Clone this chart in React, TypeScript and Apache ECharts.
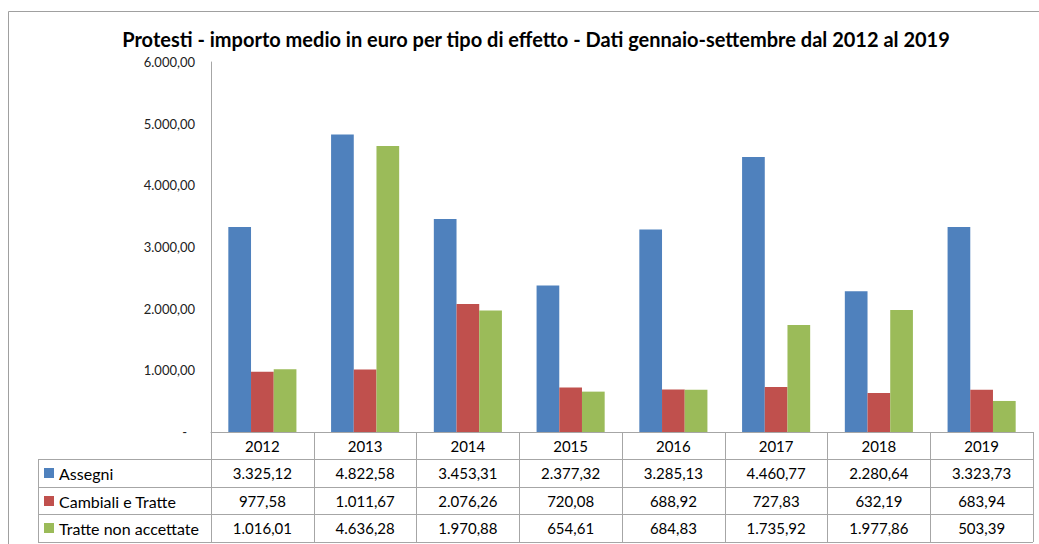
import React, { useEffect, useRef } from "react";
import * as echarts from "echarts";

const years = ["2012", "2013", "2014", "2015", "2016", "2017", "2018", "2019"];
const seriesNames = ["Assegni", "Cambiali e Tratte", "Tratte non accettate"];
const assegni = [3325.12, 4822.58, 3453.31, 2377.32, 3285.13, 4460.77, 2280.64, 3323.73];
const cambiali = [977.58, 1011.67, 2076.26, 720.08, 688.92, 727.83, 632.19, 683.94];
const tratte = [1016.01, 4636.28, 1970.88, 654.61, 684.83, 1735.92, 1977.86, 503.39];
const colors = ["#4F81BD", "#C0504D", "#9BBB59"];
const titleText =
  "Protesti - importo medio in euro per tipo di effetto - Dati gennaio-settembre dal 2012 al 2019";
const yMin = 0;
const yMax = 6000;
const yInterval = 1000;

const FONT = "Lato, 'Open Sans', sans-serif";

function fmtIt(v: number): string {
  const [i, d] = v.toFixed(2).split(".");
  const int = i.replace(/\B(?=(\d{3})+(?!\d))/g, ".");
  return int + "," + d;
}

const W = 1039;
const H = 544;
const gridLeft = 211;
const gridRight = 1033;
const gridTop = 62;
const gridBottom = 432;
const rowH = [459, 487, 514, 542];
const rowCenters = [473, 501, 528];
const tableLeft = 38;
const lineColor = "#A6A6A6";
const TABLE_FS = 15;

export default function App() {
  const ref = useRef<HTMLDivElement>(null);
  useEffect(() => {
    if (!ref.current) return;
    const chart = echarts.init(ref.current, undefined, { renderer: "svg" });
    const allData = [assegni, cambiali, tratte];

    const valueAxes = allData.map((arr, k) => ({
      type: "category" as const,
      data: arr.map(fmtIt),
      position: "bottom" as const,
      offset: rowCenters[k] - gridBottom,
      axisLine: { show: false },
      axisTick: { show: false },
      axisLabel: {
        interval: 0,
        margin: 0,
        verticalAlign: "middle" as const,
        fontFamily: FONT,
        fontSize: TABLE_FS,
        color: "#000",
      },
    }));

    const hLines = rowH.map((y) => ({
      type: "line",
      shape: { x1: tableLeft, y1: y + 0.5, x2: gridRight, y2: y + 0.5 },
      style: { stroke: lineColor, lineWidth: 1 },
      silent: true,
    }));

    const legendItems = seriesNames.flatMap((name, k) => [
      {
        type: "rect",
        shape: { x: 44, y: rowCenters[k] - 5, width: 10, height: 10 },
        style: { fill: colors[k] },
        silent: true,
      },
      {
        type: "text",
        x: 59,
        y: rowCenters[k],
        style: {
          text: name,
          fontFamily: FONT,
          fontSize: 16,
          fill: "#000",
          verticalAlign: "middle",
          align: "left",
        },
        silent: true,
      },
    ]);

    chart.setOption({
      animation: false,
      title: {
        text: titleText,
        left: 531,
        top: 24,
        textAlign: "center",
        textStyle: { fontFamily: FONT, fontSize: 20, fontWeight: "bold", color: "#000" },
      },
      grid: {
        left: gridLeft,
        right: W - gridRight,
        top: gridTop,
        bottom: H - gridBottom,
        containLabel: false,
      },
      xAxis: [
        {
          type: "category",
          data: years,
          axisLine: { show: true, lineStyle: { color: lineColor, width: 1 } },
          axisTick: { show: true, length: rowH[3] - gridBottom, lineStyle: { color: lineColor } },
          axisLabel: {
            interval: 0,
            margin: 14,
            verticalAlign: "middle",
            fontFamily: FONT,
            fontSize: TABLE_FS,
            color: "#000",
          },
        },
        ...valueAxes,
      ],
      yAxis: {
        type: "value",
        min: yMin,
        max: yMax,
        interval: yInterval,
        axisLine: { show: true, lineStyle: { color: lineColor, width: 1 } },
        axisTick: { show: false },
        splitLine: { show: false },
        axisLabel: {
          margin: 16,
          fontFamily: FONT,
          fontSize: 13,
          color: "#222",
          formatter: (v: number) => (v === 0 ? "{d|-}" : fmtIt(v)),
          rich: { d: { fontFamily: FONT, fontSize: 13, color: "#222", padding: [0, 8, 0, 0] } },
        },
      },
      series: allData.map((arr, k) => ({
        name: seriesNames[k],
        type: "bar",
        data: arr,
        xAxisIndex: 0,
        barWidth: 22.7,
        barGap: "0%",
        itemStyle: { color: colors[k] },
      })),
      color: colors,
      graphic: [
        {
          type: "rect",
          shape: { x: 8.5, y: 11.5, width: 1200, height: 800 },
          style: { fill: "none", stroke: "#A0A0A0", lineWidth: 1 },
          silent: true,
          z: -10,
        },
        ...hLines,
        {
          type: "line",
          shape: { x1: tableLeft + 0.5, y1: rowH[0], x2: tableLeft + 0.5, y2: rowH[3] + 0.5 },
          style: { stroke: lineColor, lineWidth: 1 },
          silent: true,
        },
        ...legendItems,
      ],
    });
    return () => chart.dispose();
  }, []);
  return (
    <div
      ref={ref}
      style={{ position: "fixed", left: 0, top: 0, width: W, height: H, background: "#fff" }}
    />
  );
}
